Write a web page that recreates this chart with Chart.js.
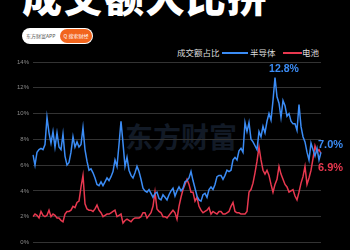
<!DOCTYPE html>
<html>
<head>
<meta charset="utf-8">
<script src="https://cdn.jsdelivr.net/npm/chart.js@4/dist/chart.umd.min.js"></script>
<style>
html, body { margin: 0; padding: 0; background: #000; width: 350px; height: 250px; overflow: hidden; }
#wrap { position: relative; width: 350px; height: 250px; font-family: "Noto Sans CJK SC", sans-serif; }
#title { position: absolute; left: 22px; top: -25px; font-size: 40px; line-height: 40px; font-weight: 900; color: #fff; letter-spacing: 1px; white-space: nowrap; }
#badge { position: absolute; left: 22px; top: 28px; width: 71px; height: 16px; border-radius: 8px; background: #fff; }
#badge .l { position: absolute; left: 4px; top: 0; font-size: 5px; line-height: 16px; color: #555; white-space: nowrap; }
#badge .r { position: absolute; right: 1px; top: 1px; width: 32px; height: 14px; border-radius: 7px; background: #f2651d; color: #fff; font-size: 5px; line-height: 14px; text-align: center; white-space: nowrap; }
.lg { position: absolute; top: 46px; font-size: 8.5px; line-height: 12px; color: #ddd; white-space: nowrap; }
.ln { position: absolute; top: 52px; height: 1.5px; }
#mark { position: absolute; left: 125px; top: 122px; font-size: 28px; line-height: 28px; font-weight: 700; color: #121a26; white-space: nowrap; }
canvas { position: absolute; left: 0; top: 0; }
</style>
</head>
<body>
<div id="wrap">
  <div id="mark">东方财富</div>
  <div id="title">成交额大比拼</div>
  <div id="badge"><span class="l">东方财富APP</span><span class="r">Q 搜索财经</span></div>
  <span class="lg" style="left:177px">成交额占比</span>
  <span class="ln" style="left:222px;width:26px;background:#3b8cf5"></span>
  <span class="lg" style="left:250px">半导体</span>
  <span class="ln" style="left:283px;width:19px;background:#e8384f"></span>
  <span class="lg" style="left:302px">电池</span>
  <canvas id="chart" width="350" height="250"></canvas>
</div>
<script>
'use strict';

let blue = '#3b8cf5';
let red = '#e8384f';

// 成交额占比 (%), 半导体
let semiData = [
  6.8, 6.0, 7.0, 7.2, 7.3, 7.2, 7.6, 9.7, 8.5, 7.7,
  8.6, 7.4, 8.5, 7.4, 7.2, 8.4, 6.7, 6.0, 6.2, 7.0,
  8.2, 7.4, 7.8, 7.4, 7.6, 8.9, 7.2, 6.3, 5.6, 5.7,
  5.4, 5.0, 4.5, 4.4, 4.7, 4.4, 4.7, 5.0, 4.8, 5.1,
  5.5, 6.4, 5.9, 7.6, 9.4, 7.7, 5.9, 6.6, 5.6, 5.2,
  5.0, 5.4, 5.9, 5.5, 4.9, 4.2, 4.0, 3.9, 4.1, 3.8,
  3.5, 3.8, 3.9, 3.4, 3.3, 3.7, 3.5, 3.3, 3.7, 4.0,
  4.2, 3.6, 4.0, 4.3, 4.0, 4.2, 4.7, 4.8, 5.0, 5.5,
  4.8, 4.2, 3.6, 3.3, 3.2, 3.7, 3.8, 3.5, 4.1, 4.3,
  4.1, 4.5, 5.1, 5.2, 5.2, 4.9, 5.2, 5.6, 5.5, 5.6,
  6.4, 6.6, 6.4, 7.1, 7.3, 7.0, 9.3, 8.6, 9.3, 8.0,
  7.8, 7.5, 7.2, 8.6, 8.2, 9.0, 8.5, 9.4, 10.0, 9.5,
  11.0, 12.8, 11.3, 10.8, 9.7, 11.0, 10.6, 9.8, 10.0, 9.4,
  9.2, 9.2, 8.7, 10.7, 9.0, 8.2, 7.8, 7.0, 6.4, 7.7,
  7.2, 6.7, 7.3, 6.4, 7.0
];

// 成交额占比 (%), 电池
let batteryData = [
  2.0, 2.2, 2.1, 1.9, 2.4, 2.1, 2.0, 2.1, 2.5, 2.0,
  2.2, 2.1, 1.9, 1.9, 1.7, 1.6, 2.2, 2.4, 2.4, 2.5,
  2.8, 2.7, 3.1, 3.2, 4.3, 5.2, 3.0, 2.6, 2.5, 2.5,
  2.4, 2.6, 2.9, 2.5, 2.3, 2.0, 2.1, 2.2, 2.2, 2.3,
  2.4, 2.5, 2.0, 2.1, 2.2, 1.5, 1.7, 1.8, 1.7, 1.6,
  1.8, 1.9, 1.9, 1.9, 2.0, 2.3, 2.3, 1.9, 2.1, 2.3,
  2.8, 3.9, 2.6, 2.4, 2.3, 2.0, 2.0, 1.9, 2.1, 2.3,
  2.5, 2.3, 1.8, 2.8, 3.5, 4.1, 4.5, 4.9, 4.5, 3.9,
  3.9, 3.2, 3.5, 2.8, 2.5, 2.3, 2.4, 2.5, 2.7, 2.2,
  2.4, 2.3, 2.2, 2.4, 2.4, 2.2, 2.2, 2.3, 2.4, 2.8,
  3.1, 2.4, 2.3, 2.3, 2.2, 2.2, 2.2, 2.4, 3.9, 4.1,
  4.6, 5.4, 6.3, 7.4, 6.4, 5.6, 5.3, 5.6, 5.2, 4.5,
  3.9, 4.5, 4.9, 5.9, 5.3, 4.9, 4.5, 4.3, 3.9, 4.0,
  4.1, 3.6, 3.3, 3.9, 4.6, 5.1, 5.9, 4.5, 5.0, 5.6,
  6.5, 7.5, 7.0, 7.2, 6.9
];

let tickLabels = ['22/01', '22/03', '22/05', '22/07', '22/09', '22/11', '23/01', '23/03',
  '23/05', '23/07', '23/09', '23/11', '24/01', '24/03', '24/05'];
let tickEvery = 10;

let yTicks = [0, 2, 4, 6, 8, 10, 12, 14];

let labels = [];
for (let i = 0; i < semiData.length; i++) {
  labels.push('d' + i);
}

let endLabels = {
  id: 'endLabels',
  afterDatasetsDraw(chart) {
    let c = chart.ctx;
    let xs = chart.scales.x;
    let ys = chart.scales.y;
    c.save();
    c.textBaseline = 'middle';

    let peak = Math.max(...semiData);
    let peakIdx = semiData.indexOf(peak);
    c.font = 'bold 10.5px "Liberation Sans", Arial, sans-serif';
    c.fillStyle = blue;
    c.textAlign = 'center';
    c.fillText(peak.toFixed(1) + '%', xs.getPixelForValue(peakIdx) + 9, ys.getPixelForValue(peak) - 8.5);

    let last = semiData.length - 1;
    c.font = 'bold 11px "Liberation Sans", Arial, sans-serif';
    c.textAlign = 'left';
    c.fillText(semiData[last].toFixed(1) + '%', xs.getPixelForValue(last) - 3, ys.getPixelForValue(semiData[last]) - 7.5);
    c.fillStyle = red;
    c.fillText(batteryData[last].toFixed(1) + '%', xs.getPixelForValue(last) - 3, ys.getPixelForValue(batteryData[last]) + 14);
    c.restore();
  }
};

let ctx = document.getElementById('chart').getContext('2d');

let chart = new Chart(ctx, {
  type: 'line',
  data: {
    labels: labels,
    datasets: [
      { label: '半导体', data: semiData, borderColor: blue, borderWidth: 1.5, pointRadius: 0, tension: 0 },
      { label: '电池', data: batteryData, borderColor: red, borderWidth: 1.5, pointRadius: 0, tension: 0 }
    ]
  },
  options: {
    responsive: false,
    animation: false,
    layout: { padding: { top: 62, right: 29, left: 0, bottom: 0 } },
    plugins: { legend: { display: false }, tooltip: { enabled: false } },
    scales: {
      x: {
        grid: { display: false },
        border: { display: false },
        ticks: {
          autoSkip: false,
          maxRotation: 0,
          padding: 3,
          color: '#777',
          font: { size: 8 },
          callback: function (v, i) {
            return i % tickEvery === 0 ? tickLabels[i / tickEvery] : null;
          }
        },
        afterFit: function (s) { s.height = 7; }
      },
      y: {
        min: yTicks[0],
        max: yTicks[yTicks.length - 1],
        afterBuildTicks: function (s) { s.ticks = yTicks.map(v => ({ value: v })); },
        ticks: {
          color: '#8a8a8a',
          padding: 4,
          font: { size: 6 },
          callback: v => v + '%'
        },
        grid: { color: '#333', drawTicks: false },
        border: { display: false },
        afterFit: function (s) { s.width = 33; }
      }
    }
  },
  plugins: [endLabels]
});
</script>
</body>
</html>
